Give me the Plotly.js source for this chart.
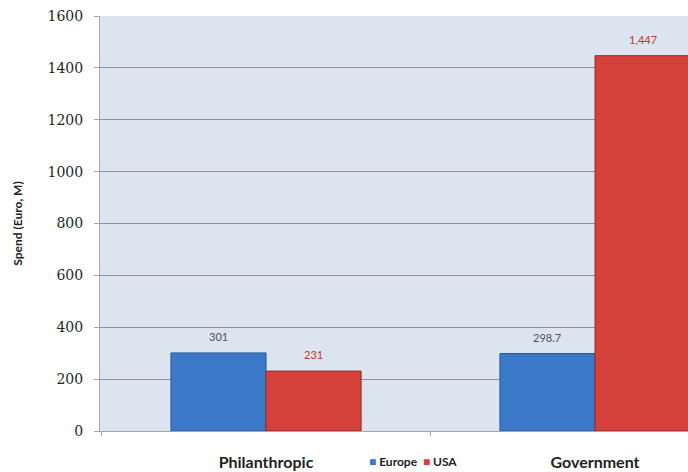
<!DOCTYPE html>
<html>
<head>
<meta charset="utf-8">
<script src="https://cdn.plot.ly/plotly-3.0.1.min.js"></script>
<style>html,body{margin:0;padding:0;background:#fff;}#chart{width:688px;height:472px;}</style>
</head>
<body>
<div id="chart"></div>
<script>
const categories = ["Philanthropic", "Government"];
const seriesNames = ["Europe", "USA"];
const europe = [301, 298.7];
const usa = [231, 1447];
const europeLabels = ["301", "298.7"];
const usaLabels = ["231", "1,447"];
const yTicks = [0, 200, 400, 600, 800, 1000, 1200, 1400, 1600];

const blue = "#3b78c8";
const red = "#d4403a";

const traces = [
  {type: "bar", name: seriesNames[0], x: categories, y: europe,
   marker: {color: blue, line: {color: "#2a5a9a", width: 1}}, hoverinfo: "skip"},
  {type: "bar", name: seriesNames[1], x: categories, y: usa,
   marker: {color: red, line: {color: "#9a2a26", width: 1}}, hoverinfo: "skip"}
];

const bw = 0.289;
const annotations = [];
categories.forEach((c, i) => {
  annotations.push({x: i - bw/2, y: europe[i], xref: "x", yref: "y", text: europeLabels[i],
    showarrow: false, yanchor: "bottom", yshift: 8,
    font: {family: "Lato, sans-serif", size: 11, color: "#4a5668"}});
  annotations.push({x: i + bw/2, y: usa[i], xref: "x", yref: "y", text: usaLabels[i],
    showarrow: false, yanchor: "bottom", yshift: 8,
    font: {family: "Lato, sans-serif", size: 11, color: "#c0392b"}});
});
// legend drawn as annotation text
annotations.push({xref: "paper", yref: "paper", x: (413 - 100) / 588, y: -(461 - 431) / 415,
  xanchor: "center", yanchor: "middle", showarrow: false,
  text: '<span style="color:' + blue + '">■</span>\u00a0' + seriesNames[0] +
        '\u00a0\u00a0<span style="color:' + red + '">■</span>\u00a0' + seriesNames[1],
  font: {family: "Lato, sans-serif", size: 12, color: "#222", weight: "bold"}});

const layout = {
  width: 688, height: 472,
  margin: {l: 100, r: 0, t: 16, b: 41},
  paper_bgcolor: "#ffffff",
  plot_bgcolor: "#dce4f0",
  barmode: "group",
  bargap: 0.422,
  bargroupgap: 0,
  showlegend: false,
  xaxis: {
    type: "category",
    range: [-0.5046, 1.2826],
    showgrid: false, zeroline: false,
    showline: true, linecolor: "#a6a6a6", linewidth: 1,
    ticks: "outside", tickson: "boundaries", ticklen: 4, tickcolor: "#a6a6a6",
    ticklabelstandoff: 17,
    tickfont: {family: "Lato, sans-serif", size: 16, color: "#222", weight: "bold"},
    fixedrange: true
  },
  yaxis: {
    range: [0, 1600],
    tickvals: yTicks,
    ticktext: yTicks.map(String),
    showgrid: true, gridcolor: "#929292", gridwidth: 1,
    zeroline: false,
    showline: true, linecolor: "#a6a6a6", linewidth: 1,
    ticks: "outside", ticklen: 5, tickcolor: "#a6a6a6",
    ticklabelstandoff: 8,
    tickfont: {family: "DejaVu Serif, serif", size: 14, color: "#262626"},
    title: {text: "<b>Spend (Euro, M)</b>", standoff: 22,
      font: {family: "Lato, sans-serif", size: 12, color: "#222"}},
    fixedrange: true
  },
  annotations: annotations
};

Plotly.newPlot("chart", traces, layout, {staticPlot: true, displayModeBar: false});
</script>
</body>
</html>
